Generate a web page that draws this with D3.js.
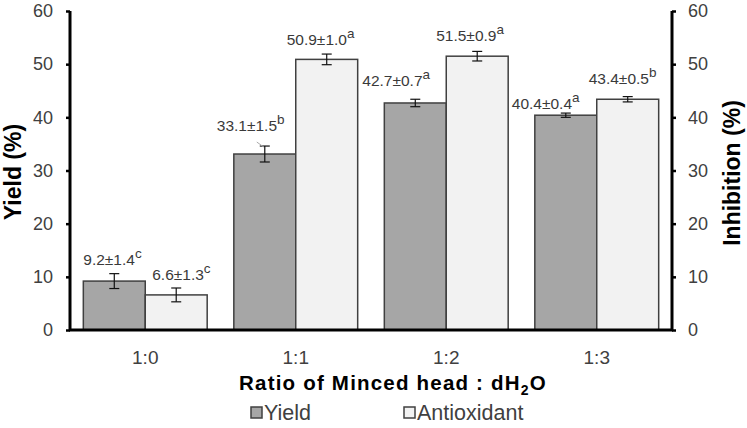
<!DOCTYPE html>
<html><head><meta charset="utf-8">
<script src="https://cdn.jsdelivr.net/npm/d3@7"></script>
<style>body{margin:0;background:#fff}svg{display:block;font-family:"Liberation Sans",Arial,sans-serif}</style>
</head><body>
<svg id="c" width="747" height="428"></svg>
<script>
const categories = ["1:0","1:1","1:2","1:3"];
const seriesNames = ["Yield","Antioxidant"];
const yieldValues = [9.2,33.1,42.7,40.4];
const yieldErrors = [1.4,1.5,0.7,0.4];
const yieldLetters = ["c","b","a","a"];
const antioxValues = [6.6,50.9,51.5,43.4];
const antioxErrors = [1.3,1.0,0.9,0.5];
const antioxLetters = ["c","a","a","b"];
const yTicks = [0,10,20,30,40,50,60];

// label placement (layout, px)
const labelOffsets = [
  [[-31,-8.5],[-24,-8]],
  [[-48,-15.5],[-40,-9]],
  [[-53,-13.5],[-41,-10]],
  [[-54,-4],[-39,-13]]
];

const svg = d3.select("#c");
const L = 70, R = 672, T = 11, B = 330;
const x0 = d3.scaleBand().domain(categories).range([L,R]).paddingInner(0.177).paddingOuter(0.0885);
const x1 = d3.scaleBand().domain(seriesNames).range([0,x0.bandwidth()]);
const yL = d3.scaleLinear().domain([0,60]).range([B,T]);
const yR = d3.scaleLinear().domain([0,60]).range([B,T]);
const fills = {Yield:"#a6a6a6", Antioxidant:"#f2f2f2"};

const rows = [];
categories.forEach((c,i)=>{
  rows.push({c,i,s:"Yield",v:yieldValues[i],e:yieldErrors[i],l:yieldLetters[i],k:0});
  rows.push({c,i,s:"Antioxidant",v:antioxValues[i],e:antioxErrors[i],l:antioxLetters[i],k:1});
});

// bars
svg.append("g").selectAll("rect").data(rows).join("rect")
  .attr("x",d=>x0(d.c)+x1(d.s))
  .attr("y",d=>yL(d.v))
  .attr("width",x1.bandwidth())
  .attr("height",d=>B-yL(d.v))
  .attr("fill",d=>fills[d.s])
  .attr("stroke","#404040").attr("stroke-width",1.5);

// error bars
const eg = svg.append("g").attr("stroke","#111").attr("stroke-width",1.2);
rows.forEach(d=>{
  const cx = x0(d.c)+x1(d.s)+x1.bandwidth()/2;
  eg.append("line").attr("x1",cx).attr("x2",cx).attr("y1",yL(d.v-d.e)).attr("y2",yL(d.v+d.e));
  eg.append("line").attr("x1",cx-5).attr("x2",cx+5).attr("y1",yL(d.v-d.e)).attr("y2",yL(d.v-d.e));
  eg.append("line").attr("x1",cx-5).attr("x2",cx+5).attr("y1",yL(d.v+d.e)).attr("y2",yL(d.v+d.e));
});

// value labels
const lg = svg.append("g").attr("fill","#3a3a3a").attr("font-size",15.5);
rows.forEach(d=>{
  const cx = x0(d.c)+x1(d.s)+x1.bandwidth()/2;
  const off = labelOffsets[d.i][d.k];
  const t = lg.append("text").attr("x",cx+off[0]).attr("y",yL(d.v+d.e)+off[1]);
  t.append("tspan").text(d.v.toFixed(1)+"±"+d.e.toFixed(1));
  t.append("tspan").attr("dy",-7).attr("font-size",13.5).text(d.l);
  if(d.i===1 && d.k===0){
    svg.append("line").attr("x1",cx-8).attr("y1",yL(d.v+d.e)-4).attr("x2",cx-1).attr("y2",yL(d.v+d.e)+1)
      .attr("stroke","#aaa").attr("stroke-width",1);
  }
});

// axes
const axL = svg.append("g").attr("transform",`translate(${L},0)`)
  .call(d3.axisLeft(yL).tickValues(yTicks).tickSize(4).tickPadding(13).tickFormat(d3.format("d")));
const axR = svg.append("g").attr("transform",`translate(${R},0)`)
  .call(d3.axisRight(yR).tickValues(yTicks).tickSize(4).tickPadding(12).tickFormat(d3.format("d")));
[axL,axR].forEach(a=>{
  a.select(".domain").attr("stroke","#000").attr("stroke-width",3).attr("d",`M0,${T}V${B}`);
  a.selectAll(".tick line").attr("stroke","#000").attr("stroke-width",2.5);
  a.selectAll(".tick text").attr("font-size",18).attr("fill","#404040").attr("font-family","Liberation Sans, Arial, sans-serif");
});
// baseline
svg.append("line").attr("x1",L-1).attr("x2",R+1).attr("y1",B).attr("y2",B).attr("stroke","#000").attr("stroke-width",3);

// x category labels
svg.append("g").selectAll("text").data(categories).join("text")
  .attr("x",d=>x0(d)+x0.bandwidth()/2).attr("y",364)
  .attr("text-anchor","middle").attr("font-size",19).attr("fill","#404040").text(d=>d);

// x title
const xt = svg.append("text").attr("x",(L+R)/2+22).attr("y",390).attr("text-anchor","middle")
  .attr("font-size",20.5).attr("font-weight","bold").attr("fill","#000").attr("letter-spacing",1.2);
xt.append("tspan").text("Ratio of Minced head : dH");
xt.append("tspan").attr("font-size",14).attr("dy",5).text("2");
xt.append("tspan").attr("dy",-5).text("O");

// y titles
svg.append("text").attr("transform","translate(21,172) rotate(-90)").attr("text-anchor","middle")
  .attr("font-size",23).attr("font-weight","bold").text("Yield (%)");
svg.append("text").attr("transform","translate(740,173) rotate(-90)").attr("text-anchor","middle")
  .attr("font-size",23).attr("font-weight","bold").text("Inhibition (%)");

// legend
const legX = [251,404];
const leg = svg.append("g");
seriesNames.forEach((s,i)=>{
  leg.append("rect").attr("x",legX[i]).attr("y",407).attr("width",11).attr("height",11)
    .attr("fill",fills[s]).attr("stroke","#404040").attr("stroke-width",1.5);
  leg.append("text").attr("x",legX[i]+13).attr("y",420).attr("font-size",21.5).attr("fill","#404040").text(s);
});
</script>
</body></html>
